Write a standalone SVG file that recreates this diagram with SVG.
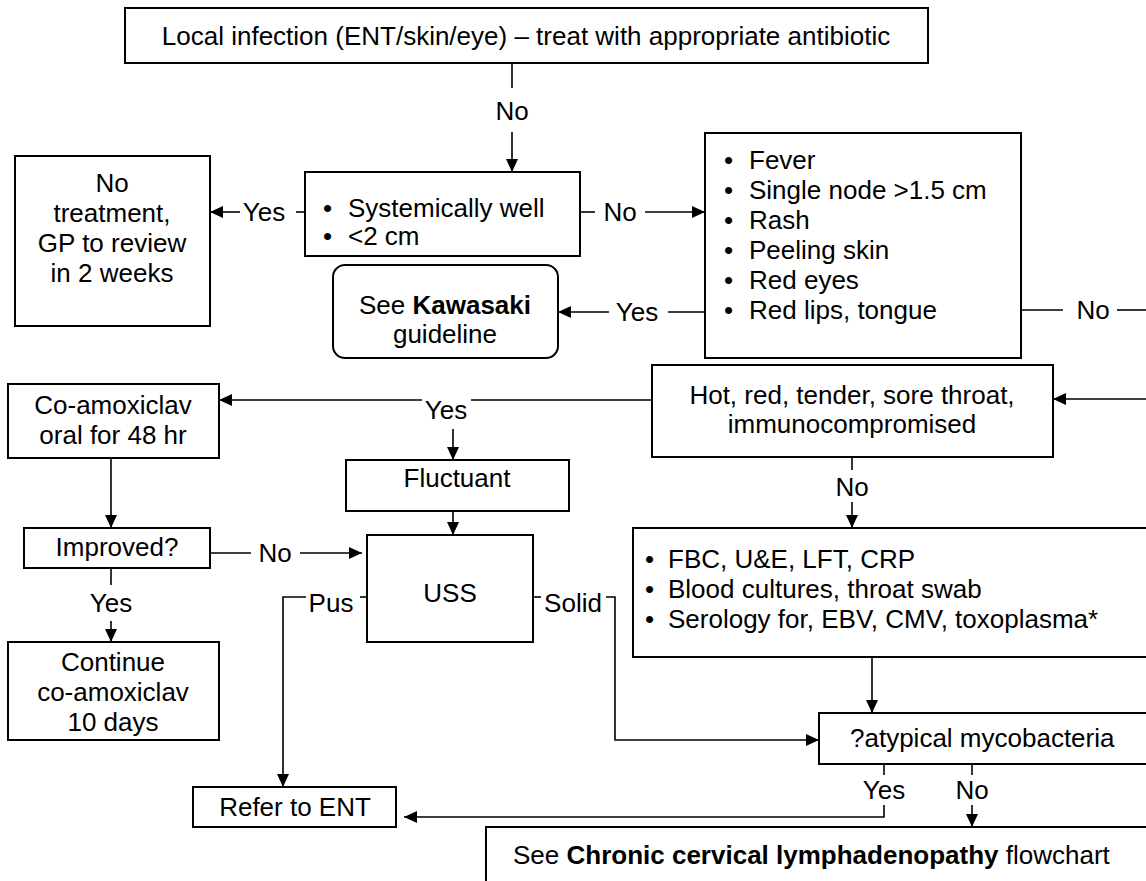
<svg xmlns="http://www.w3.org/2000/svg" width="1146" height="881" viewBox="0 0 1146 881">
<defs>
<style>
.box{fill:#fff;stroke:#000;stroke-width:2}
.t{font-family:"Liberation Sans",Arial,sans-serif;font-size:26px;fill:#000}
.c{text-anchor:middle}
.b{font-weight:bold}
.ln{fill:none;stroke:#000;stroke-width:1.6}
</style>
<marker id="ah" markerUnits="userSpaceOnUse" markerWidth="13" markerHeight="12" refX="13" refY="6" orient="auto">
<path d="M0,0 L13,6 L0,12 z" fill="#000"/>
</marker>
</defs>
<rect width="1146" height="881" fill="#fff"/>

<g id="connectors">
<path class="ln" d="M512,63 V88"/>
<text class="t c" x="512" y="120">No</text>
<path class="ln" d="M512,132 V172" marker-end="url(#ah)"/>

<path class="ln" d="M305,212 H296"/>
<text class="t c" x="264" y="221">Yes</text>
<path class="ln" d="M240,212 H210" marker-end="url(#ah)"/>

<path class="ln" d="M580,212 H595"/>
<text class="t c" x="620" y="221">No</text>
<path class="ln" d="M645,212 H705" marker-end="url(#ah)"/>

<path class="ln" d="M705,312 H668"/>
<text class="t c" x="637" y="321">Yes</text>
<path class="ln" d="M609,312 H558" marker-end="url(#ah)"/>

<path class="ln" d="M1021,310 H1063"/>
<text class="t c" x="1093" y="319">No</text>
<path class="ln" d="M1117,310 H1146"/>

<path class="ln" d="M1146,399 H1053" marker-end="url(#ah)"/>

<path class="ln" d="M652,400 H471"/>
<text class="t c" x="446" y="419">Yes</text>
<path class="ln" d="M422,400 H219" marker-end="url(#ah)"/>
<path class="ln" d="M453,429 V460" marker-end="url(#ah)"/>

<path class="ln" d="M453,511 V535" marker-end="url(#ah)"/>
<path class="ln" d="M111,458 V528" marker-end="url(#ah)"/>

<path class="ln" d="M210,553 H251"/>
<text class="t c" x="275" y="562">No</text>
<path class="ln" d="M300,553 H362" marker-end="url(#ah)"/>

<path class="ln" d="M111,568 V585"/>
<text class="t c" x="111" y="612">Yes</text>
<path class="ln" d="M111,621 V642" marker-end="url(#ah)"/>

<path class="ln" d="M367,597 H360"/>
<text class="t c" x="331" y="612">Pus</text>
<path class="ln" d="M306,597 H283 V787" marker-end="url(#ah)"/>

<path class="ln" d="M533,597 H541"/>
<text class="t c" x="573" y="612">Solid</text>
<path class="ln" d="M606,597 H615 V740 H819" marker-end="url(#ah)"/>

<path class="ln" d="M852,457 V470"/>
<text class="t c" x="852" y="496">No</text>
<path class="ln" d="M852,502 V528" marker-end="url(#ah)"/>

<path class="ln" d="M872,657 V713" marker-end="url(#ah)"/>

<path class="ln" d="M884,764 V775"/>
<text class="t c" x="884" y="799">Yes</text>
<path class="ln" d="M884,805 V817 H404" marker-end="url(#ah)"/>

<path class="ln" d="M972,764 V775"/>
<text class="t c" x="972" y="799">No</text>
<path class="ln" d="M972,805 V827" marker-end="url(#ah)"/>
</g>

<g id="n-local">
<rect class="box" x="125" y="8" width="803" height="55"/>
<text class="t c" x="526" y="45">Local infection (ENT/skin/eye) – treat with appropriate antibiotic</text>
</g>

<g id="n-notreat">
<rect class="box" x="15" y="156" width="195" height="170"/>
<text class="t c" x="112" y="192">No</text>
<text class="t c" x="112" y="222">treatment,</text>
<text class="t c" x="112" y="252">GP to review</text>
<text class="t c" x="112" y="282">in 2 weeks</text>
</g>

<g id="n-systemic">
<rect class="box" x="305" y="172" width="275" height="84"/>
<text class="t" x="323" y="217">•</text><text class="t" x="348" y="217">Systemically well</text>
<text class="t" x="323" y="245">•</text><text class="t" x="348" y="245">&lt;2 cm</text>
</g>

<g id="n-kawasaki">
<rect class="box" x="333" y="265" width="225" height="93" rx="12"/>
<text class="t c" x="445" y="314">See <tspan class="b">Kawasaki</tspan></text>
<text class="t c" x="445" y="343">guideline</text>
</g>

<g id="n-fever">
<rect class="box" x="705" y="133" width="316" height="225"/>
<text class="t" x="724" y="169">•</text><text class="t" x="749" y="169">Fever</text>
<text class="t" x="724" y="199">•</text><text class="t" x="749" y="199">Single node &gt;1.5 cm</text>
<text class="t" x="724" y="229">•</text><text class="t" x="749" y="229">Rash</text>
<text class="t" x="724" y="259">•</text><text class="t" x="749" y="259">Peeling skin</text>
<text class="t" x="724" y="289">•</text><text class="t" x="749" y="289">Red eyes</text>
<text class="t" x="724" y="319">•</text><text class="t" x="749" y="319">Red lips, tongue</text>
</g>

<g id="n-hot">
<rect class="box" x="652" y="365" width="401" height="92"/>
<text class="t c" x="852" y="404">Hot, red, tender, sore throat,</text>
<text class="t c" x="852" y="433">immunocompromised</text>
</g>

<g id="n-coamox">
<rect class="box" x="8" y="384" width="211" height="74"/>
<text class="t c" x="113" y="414">Co-amoxiclav</text>
<text class="t c" x="113" y="444">oral for 48 hr</text>
</g>

<g id="n-fluctuant">
<rect class="box" x="346" y="460" width="223" height="51"/>
<text class="t c" x="457" y="487">Fluctuant</text>
</g>

<g id="n-improved">
<rect class="box" x="24" y="528" width="186" height="40"/>
<text class="t c" x="117" y="556">Improved?</text>
</g>

<g id="n-uss">
<rect class="box" x="367" y="535" width="166" height="107"/>
<text class="t c" x="450" y="602">USS</text>
</g>

<g id="n-fbc">
<rect class="box" x="633" y="528" width="530" height="129"/>
<text class="t" x="645" y="568">•</text><text class="t" x="668" y="568">FBC, U&amp;E, LFT, CRP</text>
<text class="t" x="645" y="598">•</text><text class="t" x="668" y="598">Blood cultures, throat swab</text>
<text class="t" x="645" y="628">•</text><text class="t" x="668" y="628">Serology for, EBV, CMV, toxoplasma*</text>
</g>

<g id="n-continue">
<rect class="box" x="8" y="642" width="211" height="98"/>
<text class="t c" x="113" y="671">Continue</text>
<text class="t c" x="113" y="701">co-amoxiclav</text>
<text class="t c" x="113" y="731">10 days</text>
</g>

<g id="n-atypical">
<rect class="box" x="819" y="713" width="344" height="51"/>
<text class="t" x="850" y="747">?atypical mycobacteria</text>
</g>

<g id="n-refer">
<rect class="box" x="193" y="787" width="203" height="40"/>
<text class="t c" x="295" y="816">Refer to ENT</text>
</g>

<g id="n-chronic">
<rect class="box" x="486" y="827" width="677" height="70"/>
<text class="t" x="513" y="864">See <tspan class="b">Chronic cervical lymphadenopathy</tspan> flowchart</text>
</g>
</svg>
